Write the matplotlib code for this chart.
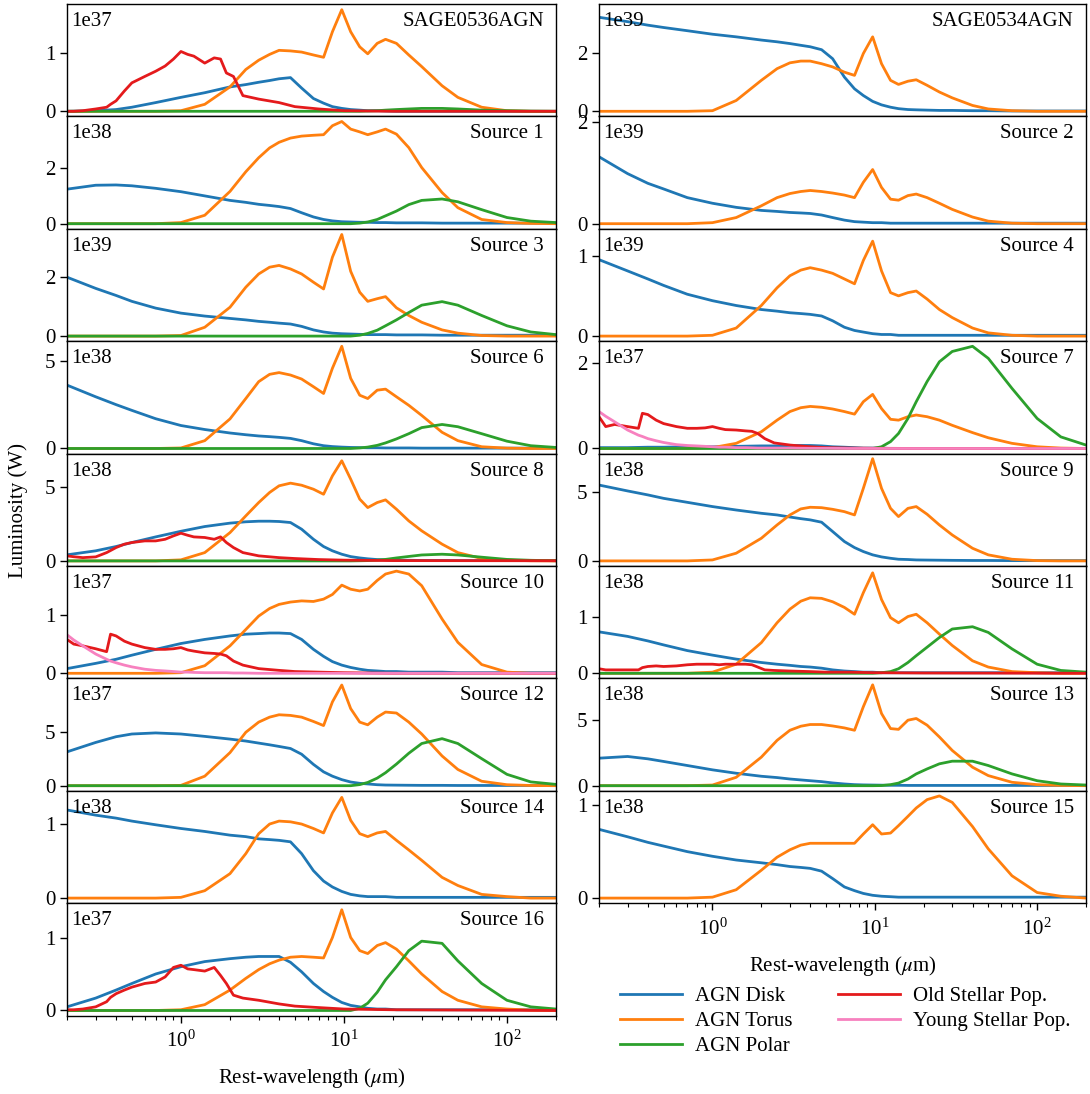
import matplotlib
matplotlib.use("Agg")
import matplotlib.pyplot as plt
from matplotlib.lines import Line2D
from matplotlib.ticker import MultipleLocator, FormatStrFormatter

plt.rcParams["font.family"] = "serif"
plt.rcParams["font.serif"] = ["Liberation Serif", "DejaVu Serif"]
plt.rcParams["mathtext.fontset"] = "stix"
plt.rcParams["font.size"] = 15
plt.rcParams["axes.linewidth"] = 1.0

# wavelength grids (micron)
WL = [0.2, 0.3, 0.4, 0.5, 0.7, 1.0, 1.4, 2.0, 2.5, 3.0, 3.5, 4.0, 4.7, 5.5, 6.5, 7.5,
      8.5, 9.7, 11, 12.5, 14, 16, 18, 21, 25, 30, 40, 50, 70, 100, 140, 200]
WP = [0.2, 9.7, 11, 12.5, 14, 16, 18, 21, 25, 30, 40, 50, 70, 100, 140, 200]
WS = [0.2, 0.22, 0.25, 0.3, 0.35, 0.37, 0.4, 0.45, 0.5, 0.6, 0.7, 0.8, 0.9, 1.0, 1.1,
      1.2, 1.4, 1.6, 1.75, 1.9, 2.1, 2.4, 3.0, 4.0, 5.0, 7.0, 10, 20, 200]

# ---- left column ----
sage0536_disk = [0.0, 0.01, 0.03, 0.07, 0.15, 0.24, 0.32, 0.42, 0.46, 0.5, 0.53, 0.56, 0.58, 0.4, 0.22, 0.14,
                 0.08, 0.05, 0.03, 0.02, 0.01, 0.01, 0.005, 0, 0, 0, 0, 0, 0, 0, 0, 0]
sage0536_torus = [0, 0, 0, 0, 0, 0.01, 0.12, 0.42, 0.72, 0.88, 0.98, 1.05, 1.04, 1.02, 0.97, 0.93,
                  1.37, 1.75, 1.37, 1.11, 0.99, 1.17, 1.24, 1.17, 0.97, 0.77, 0.44, 0.24, 0.07, 0.01, 0, 0]
sage0536_polar = [0, 0, 0, 0, 0.005, 0.01, 0.02, 0.03, 0.04, 0.05, 0.05, 0.04, 0.02, 0.01, 0.003, 0]
sage0536_old = [0.0, 0.0, 0.01, 0.04, 0.07, 0.12, 0.18, 0.35, 0.49, 0.6, 0.69, 0.78, 0.9, 1.03, 0.98,
                0.95, 0.83, 0.92, 0.9, 0.66, 0.6, 0.27, 0.21, 0.15, 0.08, 0.04, 0.01, 0.0, 0.0]

s1_disk = [1.23, 1.37, 1.38, 1.35, 1.26, 1.14, 0.99, 0.83, 0.76, 0.69, 0.65, 0.61, 0.54, 0.39, 0.24, 0.15,
           0.1, 0.07, 0.06, 0.05, 0.05, 0.04, 0.04, 0.03, 0.03, 0.03, 0.02, 0.02, 0.02, 0.02, 0.02, 0.02]
s1_torus = [0, 0, 0, 0, 0, 0.04, 0.3, 1.15, 1.85, 2.35, 2.7, 2.9, 3.05, 3.12, 3.15, 3.17,
            3.49, 3.64, 3.37, 3.27, 3.17, 3.27, 3.37, 3.19, 2.71, 2.0, 1.11, 0.57, 0.15, 0.04, 0.01, 0]
s1_polar = [0, 0, 0, 0.02, 0.06, 0.15, 0.28, 0.45, 0.68, 0.83, 0.88, 0.78, 0.5, 0.22, 0.09, 0.04]

s3_disk = [2.0, 1.62, 1.38, 1.18, 0.95, 0.78, 0.68, 0.6, 0.55, 0.5, 0.47, 0.44, 0.41, 0.33, 0.21, 0.14,
           0.1, 0.08, 0.07, 0.06, 0.05, 0.05, 0.05, 0.04, 0.04, 0.04, 0.03, 0.03, 0.03, 0.03, 0.03, 0.03]
s3_torus = [0, 0, 0, 0, 0, 0.02, 0.3, 0.98, 1.66, 2.11, 2.34, 2.4, 2.28, 2.11, 1.83, 1.6,
            2.68, 3.45, 2.2, 1.49, 1.18, 1.27, 1.34, 0.96, 0.7, 0.47, 0.21, 0.1, 0.02, 0, 0, 0]
s3_polar = [0, 0, 0, 0.03, 0.09, 0.2, 0.35, 0.55, 0.8, 1.05, 1.17, 1.05, 0.7, 0.35, 0.14, 0.05]

s6_disk = [3.64, 2.97, 2.52, 2.19, 1.71, 1.32, 1.09, 0.89, 0.79, 0.72, 0.68, 0.64, 0.58, 0.45, 0.27, 0.16,
           0.11, 0.08, 0.06, 0.05, 0.04, 0.04, 0.03, 0.03, 0.03, 0.02, 0.02, 0.02, 0.02, 0.02, 0.02, 0.02]
s6_torus = [0, 0, 0, 0, 0, 0.03, 0.45, 1.7, 2.87, 3.84, 4.26, 4.36, 4.22, 3.99, 3.55, 3.16,
            4.61, 5.87, 4.03, 3.06, 2.87, 3.35, 3.41, 2.97, 2.48, 1.9, 0.93, 0.45, 0.1, 0.02, 0, 0]
s6_polar = [0, 0, 0, 0.03, 0.08, 0.18, 0.32, 0.55, 0.85, 1.2, 1.38, 1.25, 0.85, 0.42, 0.16, 0.06]

s8_disk = [0.41, 0.68, 0.97, 1.24, 1.62, 2.0, 2.32, 2.55, 2.64, 2.68, 2.68, 2.66, 2.59, 2.14, 1.46, 0.97,
           0.68, 0.45, 0.29, 0.2, 0.14, 0.09, 0.07, 0.05, 0.04, 0.03, 0.03, 0.02, 0.02, 0.02, 0.02, 0.02]
s8_torus = [0, 0, 0, 0, 0, 0.07, 0.56, 1.91, 3.04, 3.94, 4.62, 5.07, 5.25, 5.11, 4.84, 4.5,
            5.74, 6.76, 5.52, 4.17, 3.6, 3.94, 4.12, 3.49, 2.7, 2.03, 1.13, 0.56, 0.16, 0.05, 0.01, 0]
s8_polar = [0, 0, 0, 0.01, 0.02, 0.05, 0.1, 0.2, 0.3, 0.4, 0.45, 0.4, 0.25, 0.1, 0.04, 0.01]
s8_old = [0.34, 0.28, 0.22, 0.27, 0.56, 0.7, 0.9, 1.13, 1.24, 1.35, 1.35, 1.46, 1.69, 1.87, 1.73,
          1.62, 1.58, 1.46, 1.62, 1.24, 0.9, 0.56, 0.34, 0.22, 0.16, 0.09, 0.05, 0.02, 0.01]

s10_disk = [0.08, 0.17, 0.24, 0.31, 0.41, 0.51, 0.58, 0.64, 0.67, 0.68, 0.69, 0.69, 0.68, 0.58, 0.41, 0.29,
            0.2, 0.14, 0.1, 0.07, 0.05, 0.04, 0.03, 0.03, 0.02, 0.02, 0.02, 0.01, 0.01, 0.01, 0.01, 0.01]
s10_torus = [0, 0, 0, 0, 0, 0.01, 0.13, 0.47, 0.75, 0.98, 1.11, 1.18, 1.22, 1.24, 1.23, 1.27,
             1.35, 1.51, 1.44, 1.41, 1.44, 1.59, 1.7, 1.75, 1.7, 1.5, 0.93, 0.53, 0.15, 0.02, 0, 0]
s10_old = [0.58, 0.5, 0.47, 0.42, 0.37, 0.67, 0.64, 0.55, 0.5, 0.44, 0.41, 0.41, 0.42, 0.44, 0.4,
           0.38, 0.35, 0.34, 0.33, 0.3, 0.21, 0.14, 0.08, 0.05, 0.03, 0.02, 0.01, 0.0, 0.0]
s10_young = [0.66, 0.57, 0.47, 0.33, 0.24, 0.21, 0.18, 0.14, 0.11, 0.07, 0.05, 0.04, 0.03, 0.02, 0.02,
             0.015, 0.01, 0.01, 0.01, 0.01, 0.005, 0.005, 0, 0, 0, 0, 0, 0, 0]

s12_disk = [3.13, 4.0, 4.53, 4.78, 4.88, 4.78, 4.56, 4.31, 4.13, 3.94, 3.78, 3.63, 3.44, 2.91, 1.97, 1.28,
            0.88, 0.56, 0.34, 0.22, 0.16, 0.09, 0.06, 0.05, 0.04, 0.03, 0.03, 0.02, 0.02, 0.02, 0.02, 0.02]
s12_torus = [0, 0, 0, 0, 0, 0.03, 0.88, 3.06, 4.94, 5.88, 6.34, 6.56, 6.5, 6.34, 5.94, 5.56,
             7.75, 9.31, 7.13, 5.88, 5.63, 6.34, 6.81, 6.72, 5.88, 4.78, 2.75, 1.5, 0.41, 0.09, 0.02, 0]
s12_polar = [0, 0, 0, 0.1, 0.3, 0.7, 1.2, 2.0, 3.0, 3.9, 4.35, 3.9, 2.5, 1.05, 0.35, 0.12]

s14_disk = [1.19, 1.12, 1.08, 1.04, 0.99, 0.94, 0.9, 0.85, 0.83, 0.8, 0.79, 0.78, 0.76, 0.6, 0.37, 0.23,
            0.15, 0.09, 0.05, 0.03, 0.02, 0.02, 0.02, 0.01, 0.01, 0.01, 0.01, 0.01, 0.01, 0.01, 0.01, 0.01]
s14_torus = [0, 0, 0, 0, 0, 0.01, 0.1, 0.33, 0.6, 0.87, 1.0, 1.04, 1.03, 1.0, 0.94, 0.88,
             1.15, 1.36, 1.05, 0.87, 0.83, 0.88, 0.9, 0.78, 0.65, 0.51, 0.28, 0.17, 0.05, 0.02, 0, 0]

s16_disk = [0.05, 0.17, 0.28, 0.37, 0.5, 0.6, 0.67, 0.71, 0.73, 0.74, 0.74, 0.74, 0.66, 0.53, 0.37, 0.26,
            0.18, 0.11, 0.07, 0.05, 0.03, 0.02, 0.02, 0.01, 0.01, 0.01, 0.01, 0.01, 0.01, 0.01, 0.01, 0.01]
s16_torus = [0, 0, 0, 0, 0, 0.01, 0.08, 0.28, 0.44, 0.56, 0.64, 0.69, 0.73, 0.74, 0.73, 0.72,
             1.0, 1.38, 1.0, 0.82, 0.78, 0.89, 0.93, 0.84, 0.68, 0.5, 0.26, 0.14, 0.05, 0.02, 0.005, 0]
s16_polar = [0, 0, 0, 0.03, 0.1, 0.25, 0.42, 0.6, 0.82, 0.95, 0.92, 0.68, 0.37, 0.14, 0.05, 0.02]
s16_old = [0.01, 0.01, 0.02, 0.05, 0.12, 0.18, 0.23, 0.28, 0.32, 0.37, 0.39, 0.46, 0.59, 0.62, 0.57,
           0.56, 0.54, 0.59, 0.48, 0.37, 0.21, 0.17, 0.14, 0.09, 0.06, 0.04, 0.02, 0.01, 0.0]

# ---- right column ----
sage0534_disk = [3.22, 3.07, 2.95, 2.87, 2.76, 2.64, 2.55, 2.44, 2.38, 2.32, 2.26, 2.21, 2.11, 1.8, 1.17, 0.77,
                 0.54, 0.34, 0.22, 0.14, 0.09, 0.06, 0.05, 0.04, 0.03, 0.03, 0.02, 0.02, 0.01, 0.01, 0.01, 0.01]
sage0534_torus = [0, 0, 0, 0, 0, 0.02, 0.37, 1.06, 1.46, 1.66, 1.72, 1.72, 1.63, 1.52, 1.34, 1.23,
                  1.98, 2.55, 1.63, 1.06, 0.92, 1.03, 1.08, 0.89, 0.66, 0.46, 0.2, 0.08, 0.02, 0, 0, 0]

s2_disk = [1.31, 0.98, 0.79, 0.68, 0.51, 0.4, 0.32, 0.26, 0.24, 0.22, 0.21, 0.2, 0.17, 0.12, 0.07, 0.04,
           0.03, 0.02, 0.02, 0.01, 0.01, 0.01, 0.01, 0.01, 0.01, 0.01, 0.01, 0.01, 0.01, 0.01, 0.01, 0.01]
s2_torus = [0, 0, 0, 0, 0, 0.02, 0.12, 0.35, 0.51, 0.59, 0.63, 0.65, 0.63, 0.6, 0.56, 0.51,
            0.81, 1.06, 0.71, 0.48, 0.46, 0.55, 0.58, 0.51, 0.4, 0.28, 0.13, 0.05, 0.01, 0, 0, 0]

s4_disk = [0.95, 0.81, 0.71, 0.63, 0.52, 0.44, 0.38, 0.33, 0.31, 0.29, 0.28, 0.27, 0.25, 0.19, 0.11, 0.07,
           0.05, 0.03, 0.02, 0.02, 0.01, 0.01, 0.01, 0.01, 0.01, 0.01, 0.01, 0.01, 0.01, 0.01, 0.01, 0.01]
s4_torus = [0, 0, 0, 0, 0, 0.01, 0.1, 0.38, 0.6, 0.75, 0.82, 0.85, 0.82, 0.78, 0.71, 0.65,
            0.94, 1.18, 0.81, 0.54, 0.5, 0.54, 0.56, 0.46, 0.33, 0.23, 0.1, 0.04, 0.01, 0, 0, 0]

s7_disk = [0.02, 0.02, 0.03, 0.03, 0.04, 0.04, 0.05, 0.06, 0.06, 0.07, 0.07, 0.07, 0.06, 0.04, 0.03, 0.02,
           0.01, 0.01, 0.01, 0, 0, 0, 0, 0, 0, 0, 0, 0, 0, 0, 0, 0]
s7_torus = [0, 0, 0, 0, 0, 0.02, 0.12, 0.39, 0.66, 0.86, 0.95, 0.98, 0.96, 0.92, 0.86, 0.8,
            1.09, 1.26, 0.93, 0.68, 0.66, 0.74, 0.78, 0.74, 0.66, 0.54, 0.37, 0.25, 0.12, 0.04, 0.01, 0]
s7_polar = [0, 0, 0.04, 0.16, 0.35, 0.7, 1.09, 1.56, 2.02, 2.26, 2.38, 2.1, 1.4, 0.7, 0.27, 0.08]
s7_old = [0.74, 0.51, 0.56, 0.51, 0.47, 0.82, 0.79, 0.66, 0.58, 0.51, 0.47, 0.47, 0.48, 0.51, 0.47,
          0.44, 0.43, 0.41, 0.4, 0.35, 0.23, 0.13, 0.08, 0.04, 0.02, 0.01, 0.005, 0.0, 0.0]
s7_young = [0.86, 0.75, 0.62, 0.43, 0.31, 0.28, 0.23, 0.18, 0.14, 0.09, 0.07, 0.06, 0.05, 0.04, 0.03,
            0.03, 0.02, 0.02, 0.015, 0.01, 0.01, 0.01, 0.01, 0.005, 0.005, 0, 0, 0, 0]

s9_disk = [5.53, 5.1, 4.81, 4.56, 4.27, 3.96, 3.71, 3.47, 3.35, 3.2, 3.08, 2.99, 2.82, 2.14, 1.41, 0.97,
           0.68, 0.44, 0.29, 0.19, 0.12, 0.1, 0.07, 0.06, 0.05, 0.04, 0.03, 0.03, 0.02, 0.02, 0.02, 0.02]
s9_torus = [0, 0, 0, 0, 0, 0.07, 0.56, 1.65, 2.62, 3.35, 3.79, 3.91, 3.88, 3.76, 3.59, 3.35,
            5.29, 7.45, 5.29, 3.83, 3.23, 3.83, 3.96, 3.4, 2.62, 1.89, 0.92, 0.44, 0.12, 0.02, 0, 0]

s11_disk = [0.73, 0.65, 0.57, 0.5, 0.4, 0.32, 0.25, 0.19, 0.16, 0.14, 0.12, 0.11, 0.09, 0.06, 0.04, 0.03,
            0.02, 0.02, 0.01, 0.01, 0.01, 0.01, 0.01, 0.01, 0.01, 0.01, 0.01, 0.01, 0.01, 0.01, 0.01, 0.01]
s11_torus = [0, 0, 0, 0, 0, 0.02, 0.16, 0.54, 0.89, 1.13, 1.27, 1.33, 1.32, 1.26, 1.16, 1.04,
             1.42, 1.77, 1.3, 0.98, 0.89, 1.0, 1.04, 0.89, 0.69, 0.49, 0.22, 0.11, 0.03, 0.01, 0, 0]
s11_polar = [0, 0, 0.01, 0.03, 0.08, 0.19, 0.31, 0.46, 0.63, 0.78, 0.82, 0.72, 0.43, 0.16, 0.05, 0.02]
s11_old = [0.08, 0.06, 0.06, 0.06, 0.06, 0.1, 0.12, 0.13, 0.12, 0.13, 0.15, 0.16, 0.16, 0.16, 0.15,
           0.16, 0.16, 0.16, 0.15, 0.11, 0.06, 0.05, 0.04, 0.03, 0.02, 0.02, 0.01, 0.005, 0.0]

s13_disk = [2.1, 2.23, 2.05, 1.85, 1.54, 1.21, 0.95, 0.72, 0.62, 0.51, 0.44, 0.38, 0.31, 0.21, 0.13, 0.08,
            0.06, 0.05, 0.04, 0.03, 0.03, 0.02, 0.02, 0.02, 0.02, 0.02, 0.02, 0.02, 0.02, 0.02, 0.02, 0.02]
s13_torus = [0, 0, 0, 0, 0, 0.05, 0.64, 2.18, 3.46, 4.23, 4.54, 4.67, 4.67, 4.56, 4.41, 4.23,
             6.03, 7.7, 5.51, 4.36, 4.3, 5.0, 5.13, 4.62, 3.72, 2.69, 1.41, 0.77, 0.26, 0.08, 0.02, 0]
s13_polar = [0, 0, 0.01, 0.08, 0.2, 0.51, 0.9, 1.28, 1.67, 1.87, 1.87, 1.54, 0.9, 0.38, 0.13, 0.05]

s15_disk = [0.74, 0.66, 0.6, 0.56, 0.5, 0.45, 0.41, 0.38, 0.36, 0.34, 0.33, 0.32, 0.29, 0.21, 0.12, 0.08,
            0.05, 0.03, 0.02, 0.015, 0.01, 0.01, 0.01, 0.01, 0.01, 0.01, 0.01, 0.01, 0.01, 0.01, 0.01, 0.01]
s15_torus = [0, 0, 0, 0, 0, 0.01, 0.09, 0.3, 0.44, 0.52, 0.57, 0.59, 0.59, 0.59, 0.59, 0.59,
             0.69, 0.79, 0.69, 0.7, 0.78, 0.88, 0.97, 1.06, 1.1, 1.03, 0.77, 0.53, 0.24, 0.06, 0.02, 0]

# name, scale label, y extent, y tick step, disk, torus, polar, old, young
left_panels = [
    ("SAGE0536AGN", "1e37", 1.76, 1, sage0536_disk, sage0536_torus, sage0536_polar, sage0536_old, None),
    ("Source 1", "1e38", 3.64, 2, s1_disk, s1_torus, s1_polar, None, None),
    ("Source 3", "1e39", 3.47, 2, s3_disk, s3_torus, s3_polar, None, None),
    ("Source 6", "1e38", 5.87, 5, s6_disk, s6_torus, s6_polar, None, None),
    ("Source 8", "1e38", 6.9, 5, s8_disk, s8_torus, s8_polar, s8_old, None),
    ("Source 10", "1e37", 1.75, 1, s10_disk, s10_torus, None, s10_old, s10_young),
    ("Source 12", "1e37", 9.45, 5, s12_disk, s12_torus, s12_polar, None, None),
    ("Source 14", "1e38", 1.38, 1, s14_disk, s14_torus, None, None, None),
    ("Source 16", "1e37", 1.4, 1, s16_disk, s16_torus, s16_polar, s16_old, None),
]
right_panels = [
    ("SAGE0534AGN", "1e39", 3.5, 2, sage0534_disk, sage0534_torus, None, None, None),
    ("Source 2", "1e39", 2.0, 2, s2_disk, s2_torus, None, None, None),
    ("Source 4", "1e39", 1.27, 1, s4_disk, s4_torus, None, None, None),
    ("Source 7", "1e37", 2.38, 2, s7_disk, s7_torus, s7_polar, s7_old, s7_young),
    ("Source 9", "1e38", 7.45, 5, s9_disk, s9_torus, None, None, None),
    ("Source 11", "1e38", 1.8, 1, s11_disk, s11_torus, s11_polar, s11_old, None),
    ("Source 13", "1e38", 7.8, 5, s13_disk, s13_torus, s13_polar, None, None),
    ("Source 15", "1e38", 1.1, 1, s15_disk, s15_torus, None, None, None),
]

C_DISK = "#1f77b4"
C_TORUS = "#ff7f0e"
C_POLAR = "#2ca02c"
C_OLD = "#e41a1c"
C_YOUNG = "#f781bf"
LW = 2.0


def draw_panel(ax, name, scale, ext, step, disk, torus, polar, old, young):
    ax.plot(WL, disk, color=C_DISK, lw=LW)
    ax.plot(WL, torus, color=C_TORUS, lw=LW)
    if polar is not None:
        ax.plot(WP, polar, color=C_POLAR, lw=LW)
    if old is not None:
        ax.plot(WS, old, color=C_OLD, lw=LW)
    if young is not None:
        ax.plot(WS, young, color=C_YOUNG, lw=LW)
    ax.set_xscale("log")
    ax.set_xlim(0.2, 200)
    ax.set_ylim(-0.05 * ext, 1.05 * ext)
    ax.yaxis.set_major_locator(MultipleLocator(step))
    ax.yaxis.set_major_formatter(FormatStrFormatter("%d"))
    ax.tick_params(axis="both", which="major", length=5, width=1)
    ax.tick_params(axis="x", which="major", pad=6)
    ax.tick_params(axis="x", which="minor", length=3, width=0.8)
    ax.text(0.008, 0.845, scale, transform=ax.transAxes, ha="left", va="center")
    ax.text(0.975, 0.845, name, transform=ax.transAxes, ha="right", va="center")


fig = plt.figure(figsize=(10.9, 10.94), dpi=100)
H = 1094.0
W = 1090.0
ph = 112.4 / H
top = 1 - 4 / H

for panels, x0, w in [(left_panels, 67 / W, 489 / W), (right_panels, 599 / W, 487 / W)]:
    for i, p in enumerate(panels):
        ax = fig.add_axes([x0, top - (i + 1) * ph, w, ph])
        draw_panel(ax, *p)
        if i < len(panels) - 1:
            ax.tick_params(axis="x", which="both", bottom=False, labelbottom=False)
        else:
            ax.set_xlabel(r"Rest-wavelength ($\mu$m)", labelpad=10)

fig.text(18 / W, 1 - 510 / H, "Luminosity (W)", rotation=90, ha="center", va="center")

handles = [Line2D([], [], color=C_DISK, lw=LW), Line2D([], [], color=C_TORUS, lw=LW),
           Line2D([], [], color=C_POLAR, lw=LW), Line2D([], [], color=C_OLD, lw=LW),
           Line2D([], [], color=C_YOUNG, lw=LW)]
labels = ["AGN Disk", "AGN Torus", "AGN Polar", "Old Stellar Pop.", "Young Stellar Pop."]
fig.legend(handles, labels, loc="upper center", bbox_to_anchor=(845 / W, 1 - 968 / H), ncol=2,
           frameon=False, handlelength=3.0, handletextpad=0.6, columnspacing=2.2, labelspacing=0.25)

fig.savefig("out.png", dpi=100)
